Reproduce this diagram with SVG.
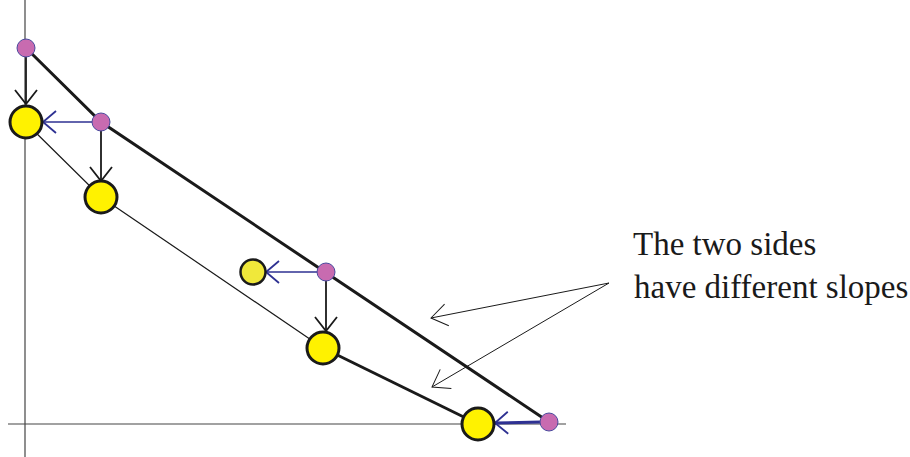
<svg xmlns="http://www.w3.org/2000/svg" width="910" height="457" viewBox="0 0 910 457">
<defs>
<style>
.axis{stroke:#444;stroke-width:1.2;fill:none}
.thick{stroke:#1a1a1a;stroke-width:3;fill:none}
.thin{stroke:#1a1a1a;stroke-width:1.2;fill:none}
.down{stroke:#1a1a1a;stroke-width:1.8;fill:none}
.left{stroke:#2e3192;stroke-width:1.6;fill:none}
.note{stroke:#1a1a1a;stroke-width:1;fill:none}
.p{fill:#c86bb0;stroke:#4a4a9e;stroke-width:1}
.y{fill:#fff200;stroke:#1a1a1a;stroke-width:3}
.ys{fill:#f0e83a;stroke:#1a1a1a;stroke-width:2.5}
text{font-family:"Liberation Serif","Times New Roman",serif;font-size:33px;fill:#1a1a1a}
</style>
<marker id="ak" markerUnits="userSpaceOnUse" markerWidth="30" markerHeight="30" refX="0" refY="0" viewBox="-15 -15 30 30" orient="auto" overflow="visible">
<path d="M-14,-11 L0,0 L-14,11" fill="none" stroke="#1a1a1a" stroke-width="1.8"/>
</marker>
<marker id="ab" markerUnits="userSpaceOnUse" markerWidth="30" markerHeight="30" refX="0" refY="0" viewBox="-15 -15 30 30" orient="auto" overflow="visible">
<path d="M-13,-11 L0,0 L-13,11" fill="none" stroke="#2e3192" stroke-width="1.8"/>
</marker>
<marker id="an" markerUnits="userSpaceOnUse" markerWidth="30" markerHeight="30" refX="0" refY="0" viewBox="-15 -15 30 30" orient="auto" overflow="visible">
<path d="M-16,-11 L0,0 L-16,11" fill="none" stroke="#1a1a1a" stroke-width="1"/>
</marker>
</defs>
<g id="axes">
<line class="axis" x1="25" y1="0" x2="25" y2="457"/>
<line class="axis" x1="8" y1="424" x2="566" y2="424"/>
</g>
<g id="connectors">
<polyline class="thick" points="26,48 101,122 549,422"/>
<polyline class="thin" points="26,123 101,197 323,348"/>
<line class="thick" x1="323" y1="348" x2="478" y2="424"/>
<line class="down" x1="26" y1="56" x2="26" y2="104" marker-end="url(#ak)"/>
<line class="left" x1="93" y1="122" x2="43" y2="122" marker-end="url(#ab)"/>
<line class="down" x1="101" y1="130" x2="101" y2="181" marker-end="url(#ak)"/>
<line class="left" x1="318" y1="272" x2="266" y2="272" marker-end="url(#ab)"/>
<line class="down" x1="326" y1="280" x2="326" y2="331" marker-end="url(#ak)"/>
<line class="left" x1="541" y1="422" x2="495" y2="423" style="stroke-width:3" marker-end="url(#ab)"/>
<line class="note" x1="609" y1="283" x2="431" y2="318" marker-end="url(#an)"/>
<line class="note" x1="609" y1="283" x2="432" y2="387" marker-end="url(#an)"/>
</g>
<g id="p1"><circle class="p" cx="26" cy="48" r="9"/></g>
<g id="p2"><circle class="p" cx="101" cy="122" r="9"/></g>
<g id="p3"><circle class="p" cx="326" cy="272" r="9"/></g>
<g id="p4"><circle class="p" cx="549" cy="422" r="9"/></g>
<g id="y1"><circle class="y" cx="26" cy="122" r="16"/></g>
<g id="y2"><circle class="y" cx="101" cy="197" r="16"/></g>
<g id="y3"><circle class="ys" cx="253" cy="272" r="12.5"/></g>
<g id="y4"><circle class="y" cx="323" cy="348" r="16"/></g>
<g id="y5"><circle class="y" cx="478" cy="424" r="16"/></g>
<g id="label">
<text x="633" y="255">The two sides</text>
<text x="634" y="298">have different slopes</text>
</g>
</svg>
